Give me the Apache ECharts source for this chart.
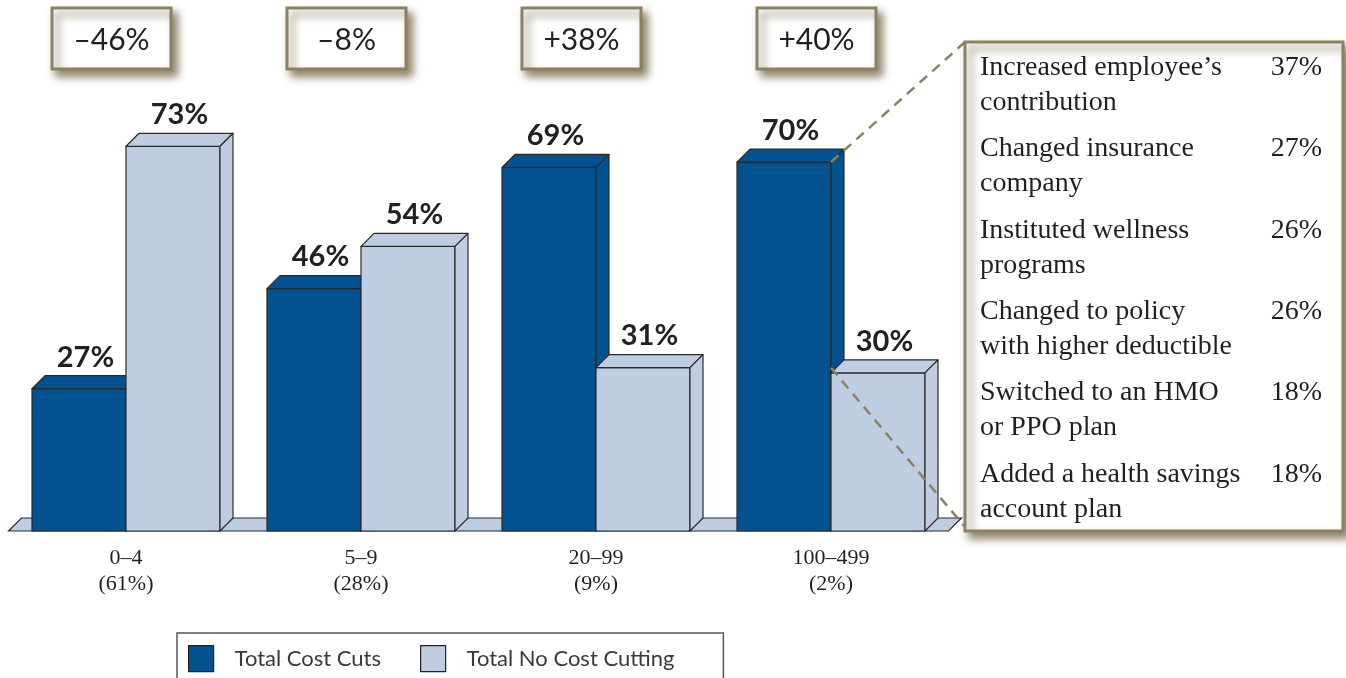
<!DOCTYPE html>
<html><head><meta charset="utf-8">
<script src="https://cdn.jsdelivr.net/npm/echarts@6/dist/echarts.min.js"></script>
<style>html,body{margin:0;padding:0;background:#fff;}#c{width:1346px;height:678px;}</style>
</head><body><div id="c"></div>
<script>
// ---- data ----
const categories = ['0–4\n(61%)', '5–9\n(28%)', '20–99\n(9%)', '100–499\n(2%)'];
const costCuts = [27, 46, 69, 70];
const noCostCutting = [73, 54, 31, 30];
const changeLabels = ['–46%', '–8%', '+38%', '+40%'];
const seriesNames = ['Total Cost Cuts', 'Total No Cost Cutting'];
const measures = ['Increased employee’s\ncontribution', 'Changed insurance\ncompany', 'Instituted wellness\nprograms', 'Changed to policy\nwith higher deductible', 'Switched to an HMO\nor PPO plan', 'Added a health savings\naccount plan'];
const measureShares = ['37%', '27%', '26%', '26%', '18%', '18%'];

// ---- styling ----
const DARK = '#02528f', LIGHT = '#bfcde3', EDGE = '#2a2a2a';
const OLIVE = '#8a8262';
const DX = 13, DY = -13;
const INK = '#231f20';

function barRender(side, color) {
  return function (params, api) {
    const i = api.value(0), v = api.value(1);
    const base = api.coord([i, 0]);
    const top = api.coord([i, v]);
    const band = api.size([1, 0])[0];
    const bw = band * 0.4;
    const x0 = side === 0 ? base[0] - bw : base[0];
    const x1 = x0 + bw;
    const y0 = base[1], y1 = top[1];
    const st = { fill: color, stroke: EDGE, lineWidth: 1.2, lineJoin: 'round' };
    return {
      type: 'group', children: [
        { type: 'polygon', shape: { points: [[x0, y0], [x1, y0], [x1, y1], [x0, y1]] }, style: st },
        { type: 'polygon', shape: { points: [[x0, y1], [x1, y1], [x1 + DX, y1 + DY], [x0 + DX, y1 + DY]] }, style: st },
        { type: 'polygon', shape: { points: [[x1, y0], [x1 + DX, y0 + DY], [x1 + DX, y1 + DY], [x1, y1]] }, style: st },
        { type: 'text', x: (x0 + x1) / 2 + DX / 2, y: y1 + DY - 4,
          style: { text: v + '%', font: 'bold 29px Lato', fill: INK, align: 'center', verticalAlign: 'bottom' } }
      ]
    };
  };
}

const chart = echarts.init(document.getElementById('c'), null, { renderer: 'canvas' });
chart.setOption({
  animation: false,
  backgroundColor: '#fff',
  grid: { left: 8.5, top: 4, width: 940, height: 527 },
  xAxis: {
    type: 'category', data: categories,
    axisLine: { show: false }, axisTick: { show: false },
    axisLabel: { fontFamily: 'Liberation Serif', fontSize: 22, lineHeight: 26, color: INK, margin: 14 }
  },
  yAxis: { type: 'value', min: 0, max: 100, show: false },
  legend: {
    left: 177, top: 633, icon: 'rect', itemWidth: 25, itemHeight: 26, itemGap: 39,
    padding: [12, 49, 20, 11], borderColor: '#555', borderWidth: 1.5,
    textStyle: { fontFamily: 'Lato', fontSize: 22, color: '#3a3a3a', padding: [0, 0, 0, 16] },
    data: [
      { name: seriesNames[0], itemStyle: { color: DARK, borderColor: '#222', borderWidth: 1.2 } },
      { name: seriesNames[1], itemStyle: { color: LIGHT, borderColor: '#222', borderWidth: 1.2 } }
    ]
  },
  series: [
    {
      type: 'custom', name: 'floor', silent: true, data: [[0]],
      renderItem: function (params, api) {
        const c = params.coordSys;
        const yb = c.y + c.height;
        return { type: 'polygon', shape: { points: [[c.x, yb], [c.x + c.width, yb], [c.x + c.width + DX, yb + DY], [c.x + DX, yb + DY]] },
          style: { fill: LIGHT, stroke: EDGE, lineWidth: 1.2 } };
      }
    },
    { type: 'custom', name: seriesNames[0], itemStyle: { color: DARK }, data: costCuts.map((v, i) => [i, v]), encode: { x: 0, y: 1 }, renderItem: barRender(0, DARK) },
    { type: 'custom', name: seriesNames[1], itemStyle: { color: LIGHT }, data: noCostCutting.map((v, i) => [i, v]), encode: { x: 0, y: 1 }, renderItem: barRender(1, LIGHT) },
    {
      type: 'custom', name: 'change', silent: true, data: changeLabels.map((t, i) => [i]),
      renderItem: function (params, api) {
        const cx = api.coord([api.value(0), 0])[0] - 14.5;
        return { type: 'group', children: [
          { type: 'rect', shape: { x: cx - 59.5, y: 8, width: 119, height: 61 },
            style: { fill: '#fff', stroke: OLIVE, lineWidth: 3, shadowBlur: 8, shadowOffsetX: 5, shadowOffsetY: 6, shadowColor: 'rgba(100,90,50,0.75)' } },
          { type: 'text', x: cx, y: 40, style: { text: changeLabels[params.dataIndex], font: '30px Lato', fill: INK, align: 'center', verticalAlign: 'middle' } }
        ] };
      }
    }
  ]
});

// ---- callout panel ----
const pA = chart.convertToPixel({ gridIndex: 0 }, [3, costCuts[3]]);
const pB = chart.convertToPixel({ gridIndex: 0 }, [3, noCostCutting[3]]);
const PX = 965, PY = 42, PW = 378, PH = 489;
const g = [
  { type: 'line', z: 100, shape: { x1: pA[0], y1: pA[1], x2: PX, y2: PY }, style: { stroke: OLIVE, lineWidth: 2.5, lineDash: [10, 7] } },
  { type: 'line', z: 100, shape: { x1: pB[0], y1: pB[1] - 5, x2: PX, y2: PY + PH - 4 }, style: { stroke: OLIVE, lineWidth: 2.5, lineDash: [10, 7] } },
  { type: 'rect', z: 101, shape: { x: PX, y: PY, width: PW, height: PH },
    style: { fill: '#fff', stroke: OLIVE, lineWidth: 3, shadowBlur: 8, shadowOffsetX: 5, shadowOffsetY: 6, shadowColor: 'rgba(100,90,50,0.75)' } }
];
measures.forEach((m, i) => {
  const y = 50 + 81.4 * i;
  g.push({ type: 'text', z: 102, x: 980, y: y, style: { text: m, font: '28px "Liberation Serif"', lineHeight: 35, fill: INK, align: 'left', verticalAlign: 'top' } });
  g.push({ type: 'text', z: 102, x: 1322, y: y, style: { text: measureShares[i], font: '28px "Liberation Serif"', lineHeight: 35, fill: INK, align: 'right', verticalAlign: 'top' } });
});
chart.setOption({ graphic: g });
</script>
</body></html>
